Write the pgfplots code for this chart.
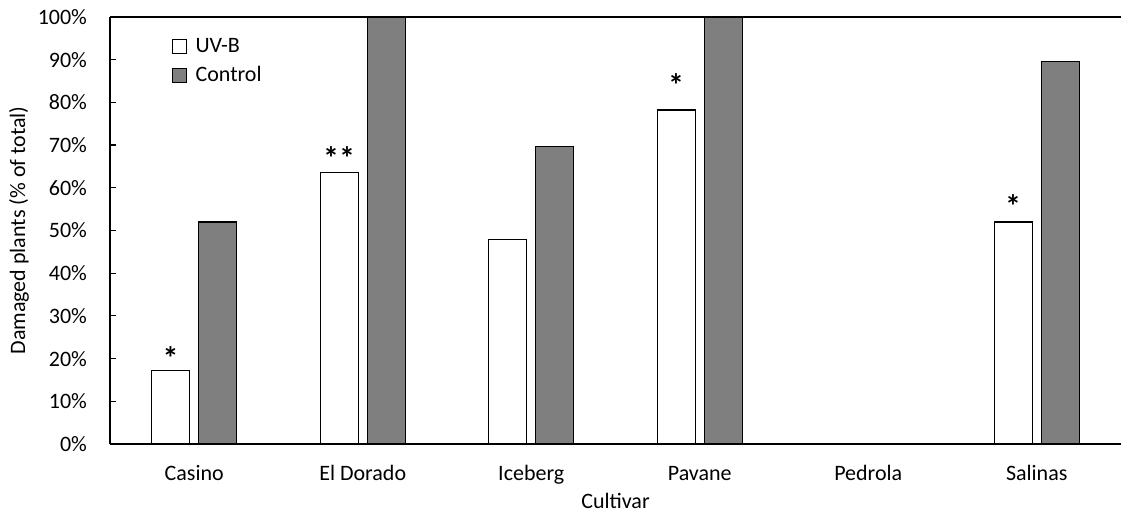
\documentclass[border=0pt]{standalone}
\usepackage{pgfplots}
\pgfplotsset{compat=1.18}
\usepackage{fontspec}
\setmainfont{Carlito}
\definecolor{ctrlgray}{HTML}{7F7F7F}
\begin{document}
\begin{tikzpicture}
\begin{axis}[
  scale only axis,
  width=505.5pt, height=213.5pt,
  xmin=-0.5, xmax=5.5,
  ymin=0, ymax=100,
  axis x line*=bottom,
  axis y line*=left,
  axis line style={black, line width=0.75pt, -},
  ytick={0,10,...,100},
  yticklabel={\pgfmathprintnumber[assume math mode=true]{\tick}\%},
  yticklabel style={xshift=-8pt},
  tick align=inside,
  major tick length=3pt,
  tick style={black, line width=0.6pt},
  xtick={0,...,5},
  xticklabels={Casino, El Dorado, Iceberg, Pavane, Pedrola, Salinas},
  x tick style={draw=none},
  xticklabel style={yshift=-7pt, text height=1.6ex, text depth=0.4ex},
  font=\fontsize{11}{13}\selectfont,
  ticklabel style={font=\fontsize{11}{13}\selectfont},
  xlabel={Cultivar},
  xlabel style={at={(axis description cs:0.5,-0.1335)}, anchor=center},
  ylabel={Damaged plants (\% of total)},
  ylabel style={at={(axis description cs:-0.090,0.5)}, anchor=center},
  bar width=0.2255,
  legend style={at={(0.055,0.97)}, anchor=north west, draw=none, fill=none,
    font=\fontsize{11}{13}\selectfont, row sep=1.5pt,
    legend cell align=left},
  legend image code/.code={%
    \draw[#1, draw=black, line width=0.6pt] (0pt,-3.5pt) rectangle (7pt,3.5pt);
    \path[draw=none, fill=none] (0pt,0pt) -- (9.5pt,0pt);},
]
% UV-B treated plants
\addplot[ybar, fill=white, draw=black, line width=0.6pt, bar shift=-0.14]
  coordinates {(0,17.3) (1,63.5) (2,47.8) (3,78.2) (5,52.0)};
% untreated control plants
\addplot[ybar, fill=ctrlgray, draw=black, line width=0.6pt, bar shift=0.14]
  coordinates {(0,52.0) (1,100) (2,69.6) (3,100) (5,89.5)};
\legend{UV-B, Control}
% significance marks above the UV-B bars
\addplot[draw=none, mark=none, forget plot,
  point meta=explicit symbolic,
  nodes near coords,
  every node near coord/.append style={font=\fontsize{16}{16}\bfseries,
    anchor=base, yshift=-8pt, inner sep=0pt}]
  coordinates {(-0.14,21.1) [*] (0.86,68.1) [**] (2.86,85.1) [*] (4.86,56.9) [*]};
\draw[black, line width=0.75pt] (rel axis cs:0,1) -- (rel axis cs:1,1);
\end{axis}
\pgfresetboundingbox
\path (-55pt,-34pt) rectangle (505.5pt,222pt);
\end{tikzpicture}
\end{document}
